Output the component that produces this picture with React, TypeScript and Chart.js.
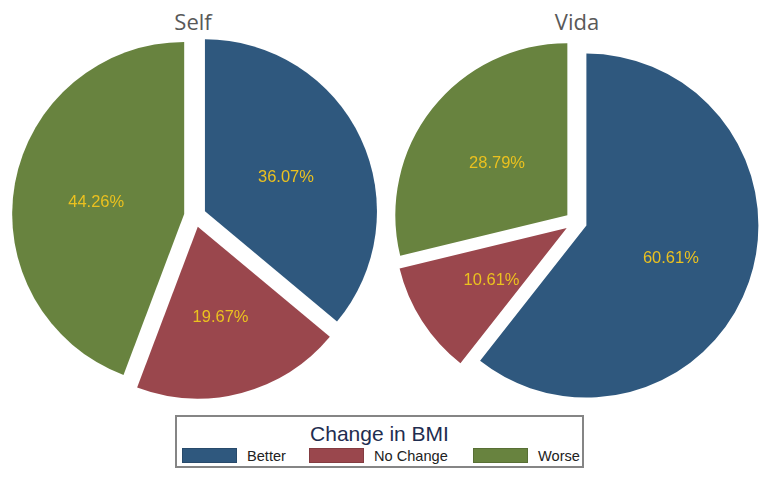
import React, { useEffect, useRef } from "react";
import { Chart, ArcElement, PieController } from "chart.js";

Chart.register(ArcElement, PieController);

// ---- data ----
const categories = ["Better", "No Change", "Worse"];
const selfValues = [36.07, 19.67, 44.26];
const vidaValues = [60.61, 10.61, 28.79];
const panelTitles = ["Self", "Vida"];
const legendTitle = "Change in BMI";

// ---- style ----
const sliceColors = ["#2f587e", "#9a474d", "#68833f"];
const EXPLODE = 11;
const RADIUS = 172;
const LABEL_FRAC = 0.52;
const LABEL_DY = 4;
const CANVAS = 380;

const explodePlugin: any = {
  id: "explodeAndLabels",
  beforeDatasetDraw(chart: any, args: any) {
    const ctx = chart.ctx;
    args.meta.data.forEach((arc: any) => {
      const { startAngle, endAngle } = arc.getProps(["startAngle", "endAngle"], true);
      const mid = (startAngle + endAngle) / 2;
      ctx.save();
      ctx.translate(Math.cos(mid) * EXPLODE, Math.sin(mid) * EXPLODE);
      arc.draw(ctx, chart.chartArea);
      ctx.restore();
    });
    return false;
  },
  afterDatasetsDraw(chart: any) {
    const ctx = chart.ctx;
    const meta = chart.getDatasetMeta(0);
    const data = chart.data.datasets[0].data as number[];
    ctx.save();
    ctx.font = '16.5px "Liberation Sans", Arial, sans-serif';
    ctx.fillStyle = "#ebc11f";
    ctx.textAlign = "center";
    ctx.textBaseline = "middle";
    meta.data.forEach((arc: any, i: number) => {
      const { x, y, startAngle, endAngle, outerRadius } = arc.getProps(
        ["x", "y", "startAngle", "endAngle", "outerRadius"],
        true
      );
      const mid = (startAngle + endAngle) / 2;
      const r = EXPLODE + outerRadius * LABEL_FRAC;
      ctx.fillText(
        data[i].toFixed(2) + "%",
        x + Math.cos(mid) * r,
        y + Math.sin(mid) * r + LABEL_DY
      );
    });
    ctx.restore();
  },
};

function PieChart({ values, left, top }: { values: number[]; left: number; top: number }) {
  const ref = useRef<HTMLCanvasElement | null>(null);
  useEffect(() => {
    if (!ref.current) return;
    const chart = new Chart(ref.current, {
      type: "pie",
      data: {
        labels: categories,
        datasets: [
          {
            data: values,
            backgroundColor: sliceColors,
            borderWidth: 0,
            radius: RADIUS,
          } as any,
        ],
      },
      options: {
        responsive: false,
        animation: false,
        events: [],
        layout: { padding: 0 },
      } as any,
      plugins: [explodePlugin],
    });
    return () => chart.destroy();
  }, [values]);
  return (
    <canvas
      ref={ref}
      width={CANVAS}
      height={CANVAS}
      style={{ position: "absolute", left, top, width: CANVAS, height: CANVAS, display: "block" }}
    />
  );
}

const titleStyle = (cx: number): React.CSSProperties => ({
  position: "absolute",
  left: cx - 100,
  width: 200,
  top: 10,
  textAlign: "center",
  fontFamily: '"Open Sans", sans-serif',
  fontSize: 22,
  lineHeight: "22px",
  color: "#595959",
});

const legendText: React.CSSProperties = {
  position: "absolute",
  fontFamily: '"Liberation Sans", Arial, sans-serif',
  fontSize: 14.6,
  lineHeight: "16px",
  color: "#222",
  whiteSpace: "nowrap",
};

export default function App() {
  const swatchX = [182, 309, 473];
  const labelX = [247, 374, 538];
  return (
    <div
      style={{
        position: "absolute",
        left: 0,
        top: 0,
        width: 773,
        height: 480,
        background: "#fff",
        overflow: "hidden",
      }}
    >
      <div style={titleStyle(193)}>{panelTitles[0]}</div>
      <div style={titleStyle(577)}>{panelTitles[1]}</div>
      <PieChart values={selfValues} left={5} top={26} />
      <PieChart values={vidaValues} left={386} top={32} />
      <div
        style={{
          position: "absolute",
          left: 175,
          top: 415,
          width: 405,
          height: 49,
          border: "2px solid #858585",
        }}
      />
      <div
        style={{
          position: "absolute",
          left: 175,
          width: 409,
          top: 422,
          textAlign: "center",
          fontFamily: '"Liberation Sans", Arial, sans-serif',
          fontSize: 21,
          lineHeight: "24px",
          color: "#1f2d50",
        }}
      >
        {legendTitle}
      </div>
      {categories.map((c, i) => (
        <React.Fragment key={c}>
          <div
            style={{
              position: "absolute",
              left: swatchX[i],
              top: 448,
              width: 55,
              height: 15,
              background: sliceColors[i],
              boxSizing: "border-box",
              border: "1px solid rgba(0,0,0,0.15)",
            }}
          />
          <div style={{ ...legendText, left: labelX[i], top: 448 }}>{c}</div>
        </React.Fragment>
      ))}
    </div>
  );
}
